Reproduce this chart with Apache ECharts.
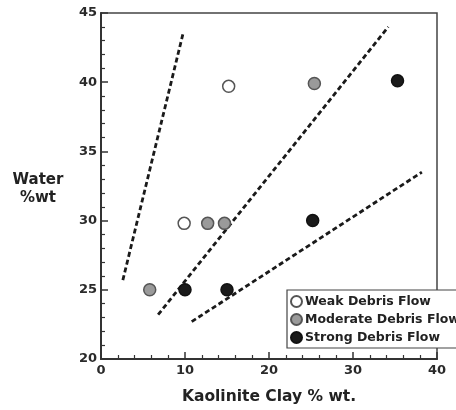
<!DOCTYPE html>
<html><head><meta charset="utf-8">
<script src="https://cdn.jsdelivr.net/npm/echarts@6/dist/echarts.min.js"></script>
<style>html,body{margin:0;padding:0;background:#fff}#c{width:456px;height:410px}</style>
</head><body><div id="c"></div>
<script>
const weakX = [9.9, 15.2];
const weakY = [29.8, 39.7];
const modX = [5.8, 12.7, 14.7, 25.4];
const modY = [25.0, 29.8, 29.8, 39.9];
const strongX = [10.0, 15.0, 25.2, 35.3];
const strongY = [25.0, 25.0, 30.0, 40.1];
const line1 = [[2.6, 25.7], [9.8, 43.6]];
const line2 = [[6.8, 23.2], [34.2, 44.0]];
const line3 = [[10.8, 22.7], [38.2, 33.5]];
const seriesNames = ['Weak Debris Flow', 'Moderate Debris Flow', 'Strong Debris Flow'];
const xName = 'Kaolinite Clay % wt.';
const yName = 'Water\n%wt';

const FONT = 'DejaVu Sans';
const zip = (a, b) => a.map((v, i) => [v, b[i]]);
const dashed = d => ({
  type: 'line', data: d, symbol: 'none', silent: true,
  lineStyle: { color: '#1a1a1a', width: 2.8, type: [5, 3] }, z: 2
});
const chart = echarts.init(document.getElementById('c'), null, { renderer: 'canvas' });
chart.setOption({
  animation: false,
  backgroundColor: '#fff',
  grid: { left: 101, top: 13, right: 19, bottom: 51, show: true, borderColor: '#444', borderWidth: 1.5 },
  xAxis: {
    type: 'value', min: 0, max: 40, interval: 10,
    name: xName, nameLocation: 'middle', nameGap: 30,
    nameTextStyle: { fontFamily: FONT, fontWeight: 'bold', fontSize: 15.5, color: '#222' },
    axisLine: { lineStyle: { color: '#333', width: 2 } },
    axisTick: { inside: true, length: 7, lineStyle: { color: '#333', width: 1.5 } },
    minorTick: { show: true, splitNumber: 5, length: 4, lineStyle: { color: '#333', width: 1.2 } },
    axisLabel: { fontFamily: FONT, fontWeight: 'bold', fontSize: 13, color: '#2a2a2a', margin: 5 },
    splitLine: { show: false }
  },
  yAxis: {
    type: 'value', min: 20, max: 45, interval: 5,
    axisLine: { lineStyle: { color: '#333', width: 2 } },
    axisTick: { inside: true, length: 7, lineStyle: { color: '#333', width: 1.5 } },
    minorTick: { show: true, splitNumber: 5, length: 4, lineStyle: { color: '#333', width: 1.2 } },
    axisLabel: { fontFamily: FONT, fontWeight: 'bold', fontSize: 13, color: '#2a2a2a', margin: 4 },
    splitLine: { show: false }
  },
  graphic: [{
    type: 'text', x: 38, y: 171, z: 10,
    style: { text: yName, fontFamily: FONT, fontWeight: 'bold', fontSize: 15, fill: '#222', align: 'center', verticalAlign: 'top', lineHeight: 18 }
  }],
  legend: {
    data: seriesNames, orient: 'vertical', left: 287, top: 290,
    padding: [5, 4, 4, 3], itemGap: 5, itemWidth: 11, itemHeight: 11,
    borderColor: '#444', borderWidth: 1.2, backgroundColor: '#fff',
    textStyle: { fontFamily: FONT, fontWeight: 'bold', fontSize: 12.5, color: '#222', padding: [0, 0, 0, -2] }
  },
  series: [
    dashed(line1), dashed(line2), dashed(line3),
    { name: seriesNames[0], type: 'scatter', data: zip(weakX, weakY), symbol: 'circle', symbolSize: 12, z: 5,
      itemStyle: { color: '#ffffff', borderColor: '#555', borderWidth: 1.5, opacity: 1 } },
    { name: seriesNames[1], type: 'scatter', data: zip(modX, modY), symbol: 'circle', symbolSize: 12, z: 5,
      itemStyle: { color: '#9a9a9a', borderColor: '#555', borderWidth: 1.5, opacity: 1 } },
    { name: seriesNames[2], type: 'scatter', data: zip(strongX, strongY), symbol: 'circle', symbolSize: 12, z: 5,
      itemStyle: { color: '#1a1a1a', borderColor: '#111', borderWidth: 1.5, opacity: 1 } }
  ]
});
</script></body></html>
